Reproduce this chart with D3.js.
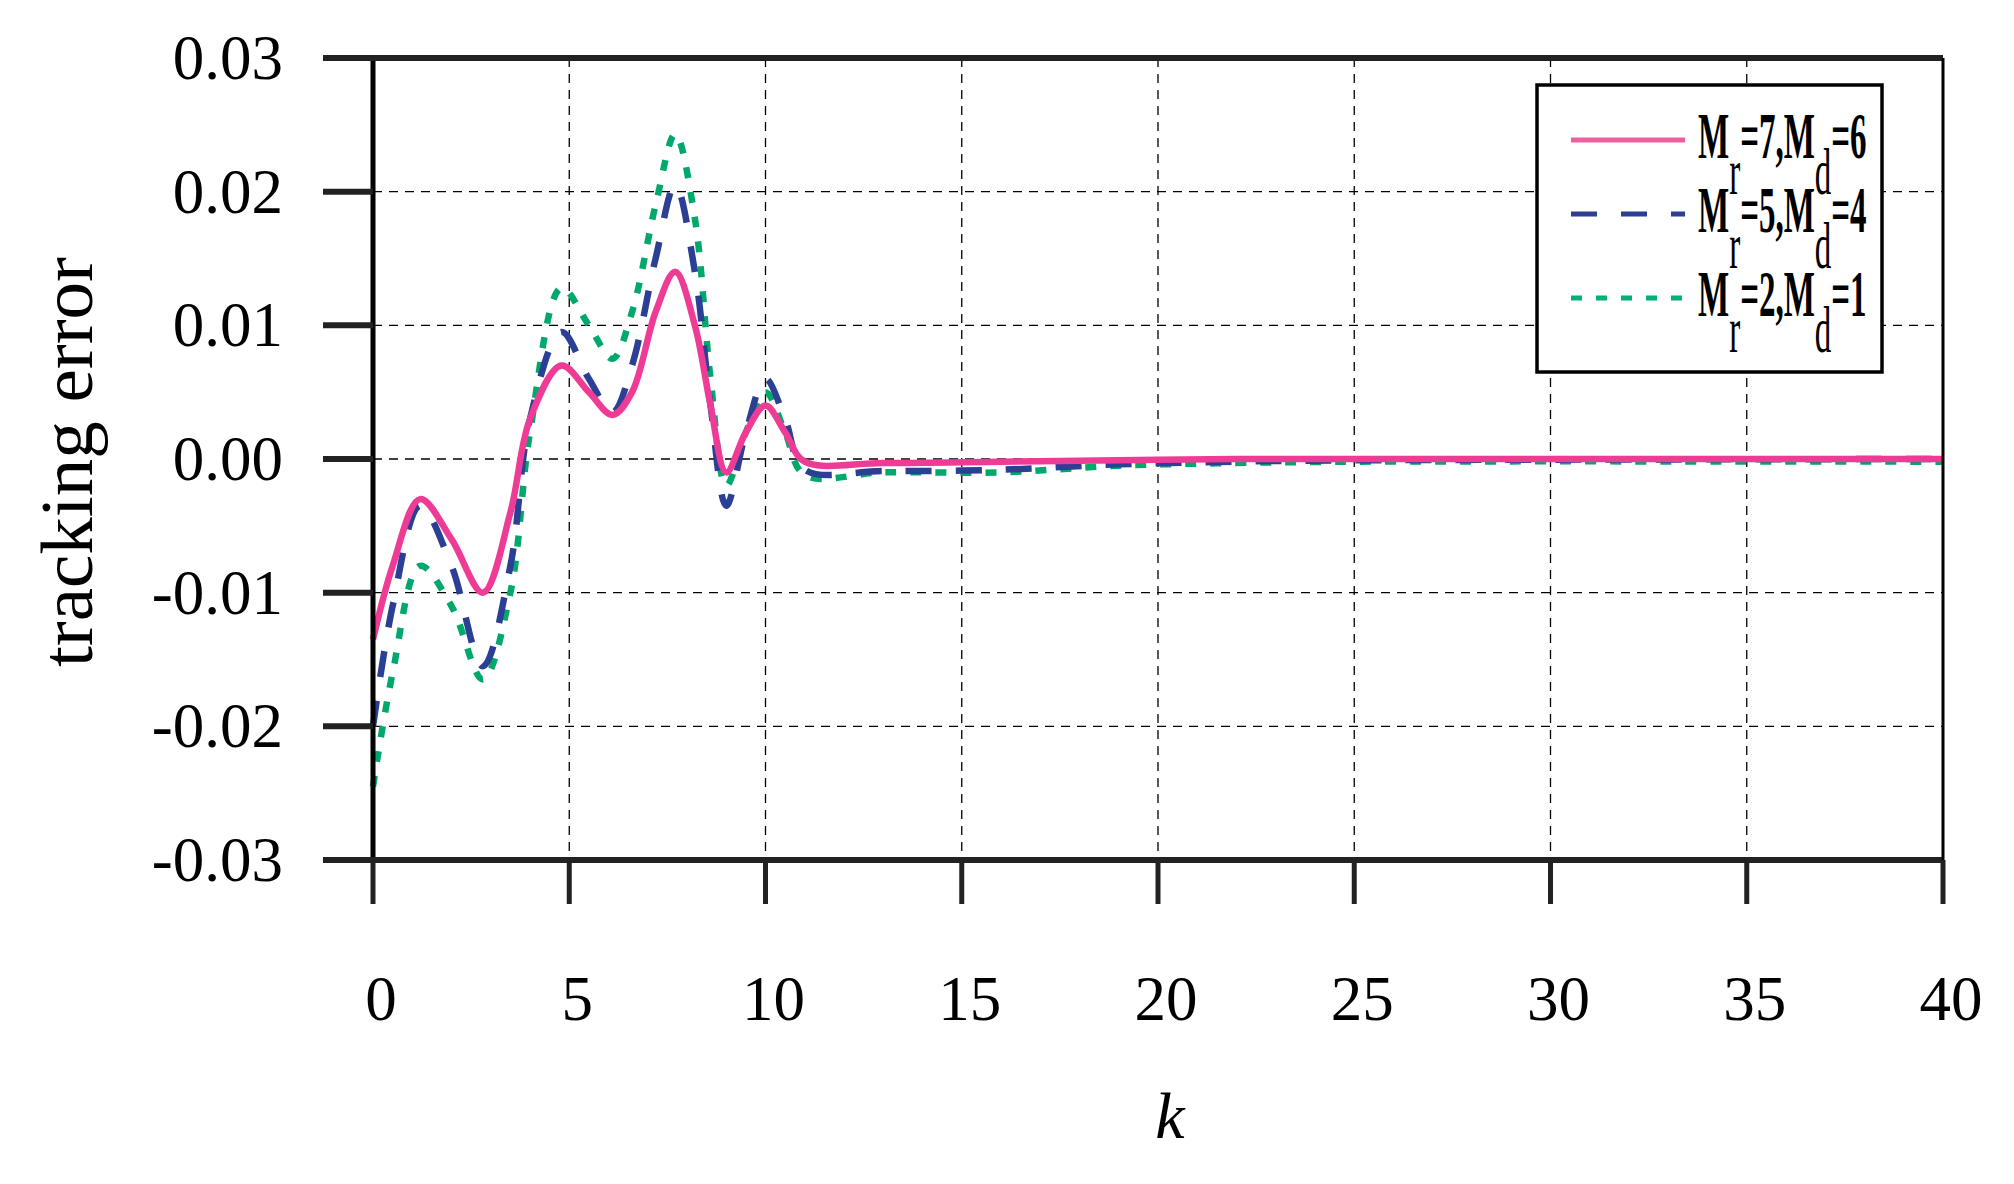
<!DOCTYPE html>
<html><head><meta charset="utf-8">
<script src="https://cdn.jsdelivr.net/npm/d3@7"></script>
<style>body{margin:0;background:#fff}text{font-family:"Liberation Serif","Times New Roman",serif}</style>
</head><body>
<script>
var width = 2014, height = 1184;
var xTicks = [0,5,10,15,20,25,30,35,40];
var yTicks = [-0.03,-0.02,-0.01,0,0.01,0.02,0.03];
var yTickLabels = ["-0.03","-0.02","-0.01","0.00","0.01","0.02","0.03"];

var kPts     = [0,0.5,1.2,2,2.8,3.5,4,4.8,5.5,6.1,6.6,7.2,7.7,8.2,8.6,9,9.5,10,10.5,11,13,16,19,22,25,40];
var pinkVals = [-0.0135,-0.008,-0.003,-0.006,-0.0100,-0.004,0.003,0.007,0.005,0.0033,0.005,0.011,0.014,0.010,0.004,-0.001,0.002,0.004,0.002,-0.0002,-0.0003,-0.0002,-0.0001,0,0,0];
var blueVals = [-0.020,-0.011,-0.0035,-0.008,-0.0155,-0.008,0.003,0.0095,0.006,0.0035,0.007,0.015,0.0205,0.014,0.004,-0.0035,0.002,0.006,0.003,-0.0008,-0.0009,-0.0008,-0.0004,-0.0002,-0.0001,0];
var greenVals= [-0.0245,-0.016,-0.008,-0.011,-0.0165,-0.010,0.002,0.0128,0.010,0.0075,0.011,0.019,0.0243,0.018,0.006,-0.002,0.002,0.005,0.002,-0.0012,-0.001,-0.001,-0.0005,-0.0003,-0.0002,-0.0002];

var series = [
  {name:["7","6"], vals:pinkVals, color:"#ee3c96", legendColor:"#ec5fa0", dash:null},
  {name:["5","4"], vals:blueVals, color:"#2b3f95", legendColor:"#2b3f95", dash:"26,24"},
  {name:["2","1"], vals:greenVals, color:"#00a86b", legendColor:"#00b074", dash:"11,14"}
];

var L = 373, R = 1943, T = 58, B = 860;
var x = d3.scaleLinear().domain([0,40]).range([L,R]);
var y = d3.scaleLinear().domain([-0.03,0.03]).range([B,T]);

var svg = d3.select("body").append("svg").attr("width",width).attr("height",height);

// grid
svg.selectAll(".gx").data(xTicks.slice(1,-1)).enter().append("line")
  .attr("x1",d=>x(d)).attr("x2",d=>x(d)).attr("y1",T).attr("y2",B)
  .attr("stroke","#000").attr("stroke-width",1.3).attr("stroke-dasharray","9,7");
svg.selectAll(".gy").data(yTicks.slice(1,-1)).enter().append("line")
  .attr("x1",L).attr("x2",R).attr("y1",d=>y(d)).attr("y2",d=>y(d))
  .attr("stroke","#000").attr("stroke-width",1.3).attr("stroke-dasharray","9,7");

// curves
var line = d3.line().curve(d3.curveCatmullRom);
series.slice().reverse().forEach(function(s){
  svg.append("path")
    .attr("d", line(kPts.map((k,i)=>[x(k), y(s.vals[i])])))
    .attr("fill","none").attr("stroke",s.color).attr("stroke-width",6.5)
    .attr("stroke-dasharray",s.dash);
});

// frame
svg.append("line").attr("x1",L).attr("x2",L).attr("y1",T).attr("y2",B).attr("stroke","#000").attr("stroke-width",5);
svg.append("line").attr("x1",323).attr("x2",R).attr("y1",T).attr("y2",T).attr("stroke","#222").attr("stroke-width",6);
svg.append("line").attr("x1",323).attr("x2",R).attr("y1",B).attr("y2",B).attr("stroke","#222").attr("stroke-width",6);
svg.append("line").attr("x1",R).attr("x2",R).attr("y1",T).attr("y2",B).attr("stroke","#000").attr("stroke-width",3);

// y ticks
svg.selectAll(".ty").data(yTicks).enter().append("line")
  .attr("x1",323).attr("x2",L).attr("y1",d=>y(d)).attr("y2",d=>y(d))
  .attr("stroke","#222").attr("stroke-width",6);
svg.selectAll(".ly").data(yTicks).enter().append("text")
  .attr("x",283).attr("y",d=>y(d)+21).attr("text-anchor","end")
  .attr("font-size",63).text((d,i)=>yTickLabels[i]);

// x ticks
svg.selectAll(".tx").data(xTicks).enter().append("line")
  .attr("x1",d=>x(d)).attr("x2",d=>x(d)).attr("y1",B).attr("y2",904)
  .attr("stroke","#222").attr("stroke-width",5);
svg.selectAll(".lx").data(xTicks).enter().append("text")
  .attr("x",d=>x(d)+8).attr("y",1020).attr("text-anchor","middle")
  .attr("font-size",63).text(d=>d);

svg.append("text").attr("x",1170).attr("y",1138).attr("text-anchor","middle")
  .attr("font-size",66).attr("font-style","italic").text("k");
svg.append("text").attr("transform","translate(92,462) rotate(-90)").attr("text-anchor","middle")
  .attr("font-size",75).text("tracking error");

// legend
svg.append("rect").attr("x",1537).attr("y",85).attr("width",345).attr("height",287)
  .attr("fill","#fff").attr("stroke","#000").attr("stroke-width",3.5);
var rowsY = [140,214,298];
series.forEach(function(s,i){
  var g = svg.append("g");
  g.append("line").attr("x1",1571).attr("x2",1685).attr("y1",rowsY[i]).attr("y2",rowsY[i])
    .attr("stroke",s.legendColor).attr("stroke-width",5).attr("stroke-dasharray",s.dash);
  var t = g.append("text").attr("transform","translate(1698,"+(rowsY[i]+18)+") scale(0.5,1)")
    .attr("font-size",66).attr("font-weight","bold");
  t.append("tspan").text("M");
  t.append("tspan").attr("dy",36).attr("font-weight","normal").text("r");
  t.append("tspan").attr("dy",-36).text("=" + s.name[0] + ",M");
  t.append("tspan").attr("dy",36).attr("font-weight","normal").text("d");
  t.append("tspan").attr("dy",-36).text("=" + s.name[1]);
});
</script>
</body></html>
